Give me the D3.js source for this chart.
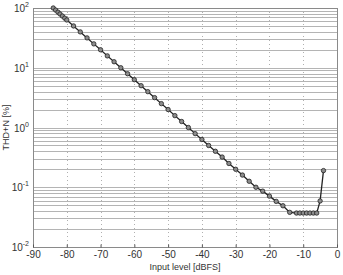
<!DOCTYPE html>
<html>
<head>
<meta charset="utf-8">
<script src="https://cdn.jsdelivr.net/npm/d3@7"></script>
<style>
  body { margin: 0; background: #fff; }
  svg { display: block; font-family: "Liberation Sans", Arial, sans-serif; }
</style>
</head>
<body>
<div id="chart"></div>
<script>
// input level sweep (dBFS) and measured THD+N (%)
var levels = [-84, -83.3, -82.6, -82, -81.3, -80.6, -80, -78, -76, -74, -72, -70, -68, -66, -64,
    -62, -60, -58, -56, -54, -52, -50, -48, -46, -44, -42, -40, -38, -36, -34, -32, -30,
    -28, -26, -24, -22, -20, -18, -16, -14, -12, -11, -10, -9, -8, -7, -6, -5, -4];
var thdn = [100, 92.3, 85.1, 79.4, 73.3, 67.6, 63.1, 50.1, 39.8, 31.6, 25.1, 20.0, 15.8, 12.6, 10.0,
    7.94, 6.31, 5.01, 3.98, 3.16, 2.51, 2.00, 1.58, 1.26, 1.00, 0.79, 0.63, 0.50, 0.40, 0.32, 0.25, 0.20,
    0.16, 0.126, 0.10, 0.086, 0.071, 0.058, 0.049, 0.038, 0.037, 0.037, 0.037, 0.037, 0.037, 0.037, 0.037, 0.059, 0.19];

var xTicks = [-90, -80, -70, -60, -50, -40, -30, -20, -10, 0];
var yDecades = [-2, -1, 0, 1, 2];

var width = 343, height = 275;
var m = {left: 33, right: 337, top: 8, bottom: 247};

var svg = d3.select("#chart").append("svg")
    .attr("width", width)
    .attr("height", height);

var x = d3.scaleLinear().domain([-90, 0]).range([m.left, m.right]);
var y = d3.scaleLog().domain([0.01, 100]).range([m.bottom, m.top]);

// horizontal grid at every log tick
var gridVals = y.ticks();

svg.append("g").selectAll("line")
    .data(gridVals).enter()
    .append("line")
    .attr("x1", m.left).attr("x2", m.right)
    .attr("y1", function(d) { return Math.round(y(d)) + 0.5; })
    .attr("y2", function(d) { return Math.round(y(d)) + 0.5; })
    .style("stroke", "#b4b4b4")
    .style("stroke-width", 1);

// vertical dotted grid
svg.append("g").selectAll("line")
    .data(xTicks.slice(1, -1)).enter()
    .append("line")
    .attr("x1", function(d) { return Math.round(x(d)) + 0.5; })
    .attr("x2", function(d) { return Math.round(x(d)) + 0.5; })
    .attr("y1", m.top).attr("y2", m.bottom)
    .style("stroke", "#b0b0b0")
    .style("stroke-dasharray", "1,3");

// box
svg.append("rect")
    .attr("x", m.left + 0.5).attr("y", m.top + 0.5)
    .attr("width", m.right - m.left).attr("height", m.bottom - m.top)
    .style("fill", "none")
    .style("stroke", "#8a8a8a");

// x axis
var xAxis = d3.axisBottom(x).tickValues(xTicks).tickSize(-3).tickPadding(3);
var gx = svg.append("g").attr("transform", "translate(0," + (m.bottom + 0.5) + ")").call(xAxis);
gx.select(".domain").remove();
gx.attr("font-family", null);
gx.selectAll("line").style("stroke", "#555");
gx.selectAll("text").style("font-size", "10px").style("fill", "#333")
    .text(function(d) { return d; });

// y axis labels 10^n
var yl = svg.append("g").selectAll("text")
    .data(yDecades).enter()
    .append("text")
    .attr("x", m.left - 4)
    .attr("y", function(d) { return y(Math.pow(10, d)) + 4; })
    .style("font-size", "10px")
    .style("fill", "#333")
    .attr("text-anchor", "end");
yl.append("tspan").text("10");
yl.append("tspan").attr("dy", -5).style("font-size", "7px").text(function(d) { return d; });

// axis titles
svg.append("text")
    .attr("x", (m.left + m.right) / 2).attr("y", 270)
    .attr("text-anchor", "middle")
    .style("font-size", "9px").style("fill", "#333")
    .text("Input level [dBFS]");

svg.append("text")
    .attr("transform", "translate(9," + ((m.top + m.bottom) / 2) + ") rotate(-90)")
    .attr("text-anchor", "middle")
    .style("font-size", "9px").style("fill", "#333")
    .text("THD+N [%]");

// data line
var pts = levels.map(function(d, i) { return {level: d, value: thdn[i]}; });

var line = d3.line()
    .x(function(d) { return x(d.level); })
    .y(function(d) { return y(d.value); });

svg.append("path")
    .datum(pts)
    .attr("d", line)
    .style("fill", "none")
    .style("stroke", "#222")
    .style("stroke-width", 1.3);

svg.append("g").selectAll("circle")
    .data(pts).enter()
    .append("circle")
    .attr("cx", function(d) { return x(d.level); })
    .attr("cy", function(d) { return y(d.value); })
    .attr("r", 2.2)
    .style("fill", "#8c8c8c")
    .style("stroke", "#222")
    .style("stroke-width", 0.8);
</script>
</body>
</html>
